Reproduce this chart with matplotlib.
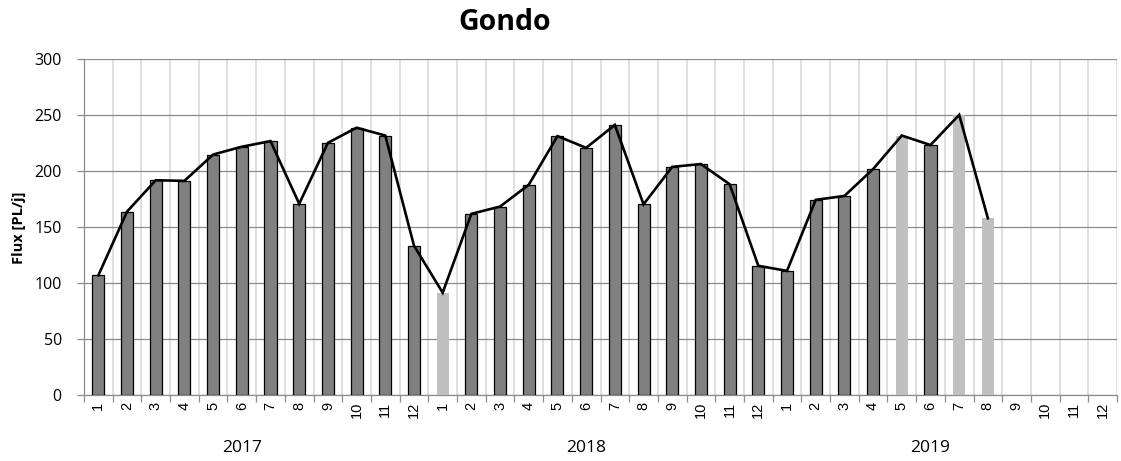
import numpy as np
import matplotlib
matplotlib.use("Agg")
import matplotlib.pyplot as plt
from matplotlib import font_manager
from matplotlib.transforms import blended_transform_factory

# Monthly flux for Gondo, January 2017 to August 2019
years = ["2017", "2018", "2019"]
months = [str(m) for m in range(1, 13)]
flux_2017 = [107, 164, 192, 191.5, 215, 222, 227, 171, 225.5, 239, 232, 133.5]
flux_2018 = [91.5, 162, 168.5, 188, 231.5, 221, 241.5, 170.5, 204, 206.5, 188.5, 115.5]
flux_2019 = [111, 174.5, 178, 202, 232, 223.5, 250.5, 158]
# months whose value is provisional / incomplete (drawn in light grey)
provisional = {("2018", 1), ("2019", 5), ("2019", 7), ("2019", 8)}

title = "Gondo"
ylabel = "Flux [PL/j]"
yticks = [0, 50, 100, 150, 200, 250, 300]

flux = flux_2017 + flux_2018 + flux_2019
n_cat = len(years) * len(months)
xpos = np.arange(len(flux))
is_prov = [(years[i // 12], i % 12 + 1) in provisional for i in xpos]

available = {f.name for f in font_manager.fontManager.ttflist}
main_font = "Open Sans" if "Open Sans" in available else "DejaVu Sans"
narrow_font = "Liberation Sans Narrow" if "Liberation Sans Narrow" in available else "Liberation Sans"

fig = plt.figure(figsize=(11.21, 4.61), dpi=100)
ax = fig.add_axes([84 / 1121, 1 - 395 / 461, (1117 - 84) / 1121, (395 - 59.5) / 461])

dark = "#808080"
light = "#c0c0c0"
for x, v, p in zip(xpos, flux, is_prov):
    if p:
        ax.bar(x, v, width=0.42, color=light, edgecolor="none", zorder=3)
    else:
        ax.bar(x, v, width=0.42, color=dark, edgecolor="black", linewidth=0.9, zorder=3)

ax.plot(xpos, flux, color="black", linewidth=1.9, zorder=4, solid_joinstyle="miter")

ax.set_xlim(-0.5, n_cat - 0.5)
ax.set_ylim(0, 300)

# Gridlines
ax.set_yticks(yticks)
ax.yaxis.grid(True, color="#8c8c8c", linewidth=0.9, zorder=0)
ax.set_xticks(np.arange(-0.5, n_cat, 1.0), minor=True)
ax.xaxis.grid(True, which="minor", color="#d9d9d9", linewidth=1.2, zorder=0)
ax.set_axisbelow(True)

for s in ["top", "right"]:
    ax.spines[s].set_visible(False)
ax.spines["left"].set_color("#8c8c8c")
ax.spines["bottom"].set_color("#8c8c8c")
ax.spines["left"].set_linewidth(0.9)
ax.spines["bottom"].set_linewidth(0.9)

ax.set_xticks(np.arange(n_cat))
ax.set_xticklabels(months * len(years), rotation=90, va="top", ha="center",
                   fontsize=10.5, family=narrow_font)
ax.tick_params(axis="x", which="major", length=0, pad=5)
ax.tick_params(axis="x", which="minor", length=5, color="#8c8c8c", width=0.9)
ax.tick_params(axis="y", length=5, color="#8c8c8c", width=0.9, pad=11)
for lab in ax.get_yticklabels():
    lab.set_fontfamily(main_font)
    lab.set_fontsize(11.5)

trans = blended_transform_factory(ax.transData, ax.transAxes)
for k, yr in enumerate(years):
    ax.text(k * 12 + 5, -0.158, yr, transform=trans, ha="center", va="center",
            fontsize=12.5, family=main_font)

fig.text(505 / 1121, 1 - 23 / 461, title, ha="center", va="center",
         fontsize=20.5, fontweight="bold", family=main_font)
fig.text(19 / 1121, 1 - 228 / 461, ylabel, ha="center", va="center", rotation=90,
         fontsize=10.5, fontweight="bold", family=main_font)

fig.savefig("out.png", dpi=100)
